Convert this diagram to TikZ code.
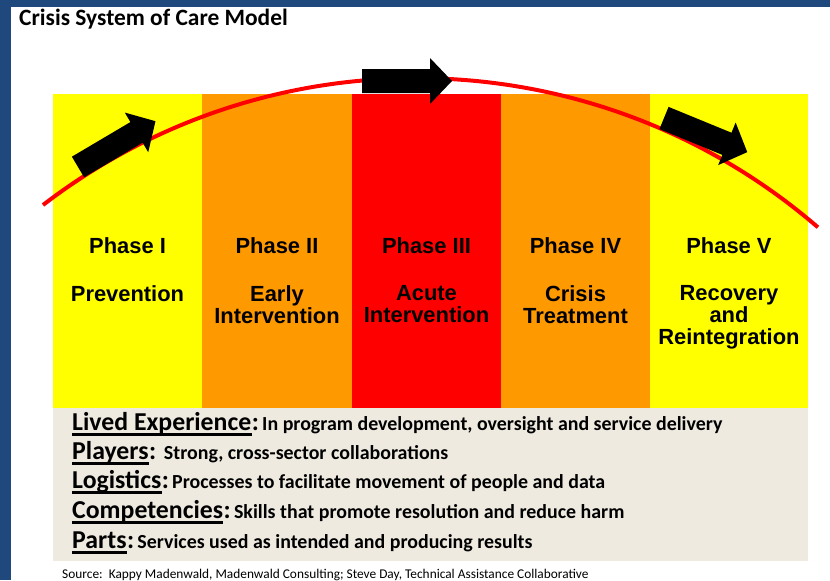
\documentclass[tikz,border=0pt]{standalone}
\usepackage{fontspec}
\setmainfont{Carlito}
\newfontfamily\phasefont{Liberation Sans}

\definecolor{frameblue}{HTML}{1F497D}
\definecolor{phaseyellow}{HTML}{FFFF00}
\definecolor{phaseorange}{HTML}{FF9900}
\definecolor{phasered}{HTML}{FF0000}
\definecolor{panel}{HTML}{EEEAE0}

\begin{document}
\begin{tikzpicture}[x=0.03cm, y=-0.03cm,
	phase/.style={anchor=base, inner sep=0pt, font=\phasefont\bfseries\fontsize{18.7}{19}\selectfont},
	stage/.style={anchor=north, inner sep=0pt, align=center, font=\phasefont\bfseries\fontsize{18.7}{19}\selectfont},
	key/.style={anchor=base west, inner sep=0pt, font=\bfseries\fontsize{22}{24}\selectfont},
	keytext/.style={anchor=base west, inner sep=0pt, font=\bfseries\fontsize{17}{19}\selectfont},
	blockarrow/.style={fill=black}]
	\useasboundingbox (0,0) rectangle (830,580);
	\fill[white] (0,0) rectangle (830,580);
	% frame
	\fill[frameblue] (0,0) rectangle (830,7);
	\fill[frameblue] (0,0) rectangle (11,580);
	\node[anchor=base west, inner sep=0pt, font=\bfseries\fontsize{20}{22}\selectfont] (title) at (19,25) {Crisis System of Care Model};
	% phase columns
	\foreach \i/\xa/\xb/\c/\ph/\st in {
		1/53/202/phaseyellow/{Phase I}/{Prevention},
		2/202/352/phaseorange/{Phase II}/{Early\\Intervention},
		3/352/501/phasered/{Phase III}/{Acute\\Intervention},
		4/501/650/phaseorange/{Phase IV}/{Crisis\\Treatment},
		5/650/808/phaseyellow/{Phase V}/{Recovery\\and\\Reintegration}} {
		\fill[\c] (\xa,94) rectangle (\xb,408);
		\node[phase] (ph\i) at ({(\xa+\xb)/2},253) {\ph};
		\node[stage] (st\i) at ({(\xa+\xb)/2},285) {\st};
	}
	% curve and arrows
	\draw[phasered, line width=3.4pt] (43,205) arc[start angle=-127.5, end angle=-49.2, radius=614];
	\foreach \x/\y/\a in {78/167/30.6, 362/81/0, 664/118/-22.3}
		\fill[blockarrow, shift={(\x,\y)}, rotate=\a] (0,-12) -- (68,-12) -- (68,-23) -- (90,0) -- (68,23) -- (68,12) -- (0,12) -- cycle;
	% key panel
	\fill[panel] (53,408) rectangle (808,561);
	\foreach \i/\y/\lab/\txt in {
		1/430/{Lived Experience}/{In program development, oversight and service delivery},
		2/459/{Players}/{\ Strong, cross-sector collaborations},
		3/488/{Logistics}/{Processes to facilitate movement of people and data},
		4/518/{Competencies}/{Skills that promote resolution and reduce harm},
		5/548/{Parts}/{Services used as intended and producing results}} {
		\node[key] (key\i) at (72,\y) {\lab};
		\node[keytext] (txt\i) at (key\i.base east) {{\fontsize{22}{24}\selectfont:}\,\txt};
		\draw[line width=2.3pt] ([yshift=-3.8pt]key\i.base west) -- ([yshift=-3.8pt]key\i.base east);
	}
	\node[anchor=base west, inner sep=0pt, font=\fontsize{11.4}{12}\selectfont] (source) at (62,578) {Source:\ \ Kappy Madenwald, Madenwald Consulting; Steve Day, Technical Assistance Collaborative};
\end{tikzpicture}
\end{document}
